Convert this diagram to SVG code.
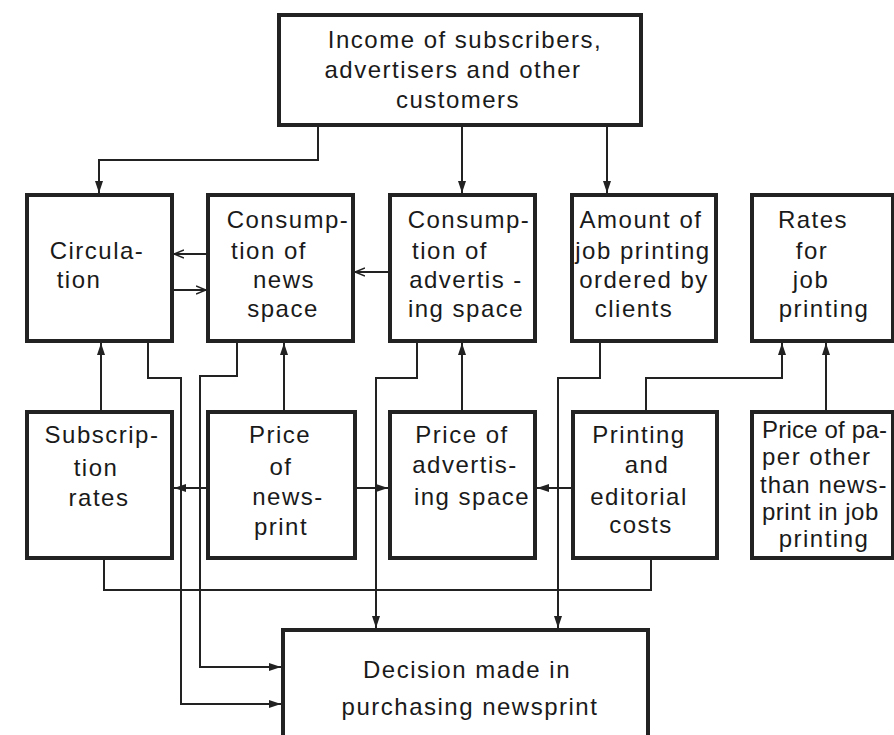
<svg xmlns="http://www.w3.org/2000/svg" width="894" height="735" viewBox="0 0 894 735">
<defs>
<style>
.box{fill:#fff;stroke:#222;stroke-width:4}
.ln{fill:none;stroke:#222;stroke-width:2}
text{font-family:"Liberation Sans","DejaVu Sans",sans-serif;font-size:24px;fill:#1a1a1a;text-anchor:middle;letter-spacing:1.5px}
.l{text-anchor:start}
</style>
<marker id="arr" viewBox="0 0 12 10" refX="12" refY="5" markerWidth="12" markerHeight="10" markerUnits="userSpaceOnUse" orient="auto">
<path d="M0,1 L12,5 L0,9 Z" fill="#222"/>
</marker>
<marker id="open" viewBox="0 0 10 10" refX="10" refY="5" markerWidth="10" markerHeight="10" markerUnits="userSpaceOnUse" orient="auto">
<path d="M0,1 L10,5 L0,9" fill="none" stroke="#222" stroke-width="1.6"/>
</marker>
</defs>
<rect width="894" height="735" fill="#fff"/>

<g id="connectors">
<path class="ln" d="M318,125 V160 H99 V193" marker-end="url(#arr)"/>
<path class="ln" d="M462,125 V193" marker-end="url(#arr)"/>
<path class="ln" d="M607,125 V193" marker-end="url(#arr)"/>
<path class="ln" d="M208,254 H174" marker-end="url(#open)"/>
<path class="ln" d="M172,290 H206" marker-end="url(#open)"/>
<path class="ln" d="M390,272 H355" marker-end="url(#open)"/>
<path class="ln" d="M101,412 V343" marker-end="url(#arr)"/>
<path class="ln" d="M284,412 V343" marker-end="url(#arr)"/>
<path class="ln" d="M462,412 V343" marker-end="url(#arr)"/>
<path class="ln" d="M646,412 V378 H782 V343" marker-end="url(#arr)"/>
<path class="ln" d="M826,412 V343" marker-end="url(#arr)"/>
<path class="ln" d="M208,488 H174" marker-end="url(#arr)"/>
<path class="ln" d="M355,488 H388" marker-end="url(#arr)"/>
<path class="ln" d="M573,488 H537" marker-end="url(#arr)"/>
<path class="ln" d="M148,341 V378 H181 V704 H281" marker-end="url(#arr)"/>
<path class="ln" d="M237,341 V376 H200 V667 H281" marker-end="url(#arr)"/>
<path class="ln" d="M417,341 V378 H376 V628" marker-end="url(#arr)"/>
<path class="ln" d="M600,341 V378 H558 V628" marker-end="url(#arr)"/>
<path class="ln" d="M104,558 V590 H651 V558"/>
</g>

<g id="income">
<rect class="box" x="279" y="15" width="362" height="110"/>
<text x="465" y="48">Income of subscribers,</text>
<text x="453" y="78">advertisers and other</text>
<text x="458" y="108">customers</text>
</g>

<g id="circulation">
<rect class="box" x="27" y="195" width="145" height="146"/>
<text x="97" y="259">Circula-</text>
<text x="79" y="288">tion</text>
</g>

<g id="consumption-news">
<rect class="box" x="208" y="195" width="145" height="146"/>
<text x="288" y="228">Consump-</text>
<text x="269" y="259">tion of</text>
<text x="284" y="288">news</text>
<text x="283" y="317">space</text>
</g>

<g id="consumption-adv">
<rect class="box" x="390" y="195" width="145" height="146"/>
<text x="469" y="228">Consump-</text>
<text x="450" y="259">tion of</text>
<text x="466" y="288">advertis -</text>
<text x="466" y="317">ing space</text>
</g>

<g id="amount">
<rect class="box" x="572" y="195" width="144" height="146"/>
<text x="641" y="228">Amount of</text>
<text x="643" y="259">job printing</text>
<text x="644" y="288">ordered by</text>
<text x="634" y="317">clients</text>
</g>

<g id="rates">
<rect class="box" x="752" y="195" width="141" height="146"/>
<text x="813" y="228">Rates</text>
<text x="812" y="259">for</text>
<text x="811" y="288">job</text>
<text x="824" y="317">printing</text>
</g>

<g id="subscription">
<rect class="box" x="27" y="412" width="145" height="146"/>
<text x="102" y="443">Subscrip-</text>
<text x="96" y="476">tion</text>
<text x="99" y="506">rates</text>
</g>

<g id="price-newsprint">
<rect class="box" x="208" y="412" width="147" height="146"/>
<text x="280" y="443">Price</text>
<text x="281" y="475">of</text>
<text x="288" y="505">news-</text>
<text x="281" y="535">print</text>
</g>

<g id="price-adv">
<rect class="box" x="390" y="412" width="145" height="146"/>
<text x="462" y="443">Price of</text>
<text x="465" y="473">advertis-</text>
<text x="472" y="505">ing space</text>
</g>

<g id="printing-costs">
<rect class="box" x="573" y="412" width="144" height="146"/>
<text x="639" y="443">Printing</text>
<text x="647" y="473">and</text>
<text x="639" y="505">editorial</text>
<text x="641" y="533">costs</text>
</g>

<g id="price-paper">
<rect class="box" x="752" y="412" width="141" height="146"/>
<text class="l" x="762" y="438" style="letter-spacing:0.2px">Price of pa-</text>
<text class="l" x="762" y="465">per other</text>
<text class="l" x="760" y="493" style="letter-spacing:1px">than news-</text>
<text class="l" x="762" y="520" style="letter-spacing:0.5px">print in job</text>
<text x="824" y="547">printing</text>
</g>

<g id="decision">
<rect class="box" x="283" y="630" width="365" height="120"/>
<text x="467" y="678">Decision made in</text>
<text x="470" y="715">purchasing newsprint</text>
</g>
</svg>
